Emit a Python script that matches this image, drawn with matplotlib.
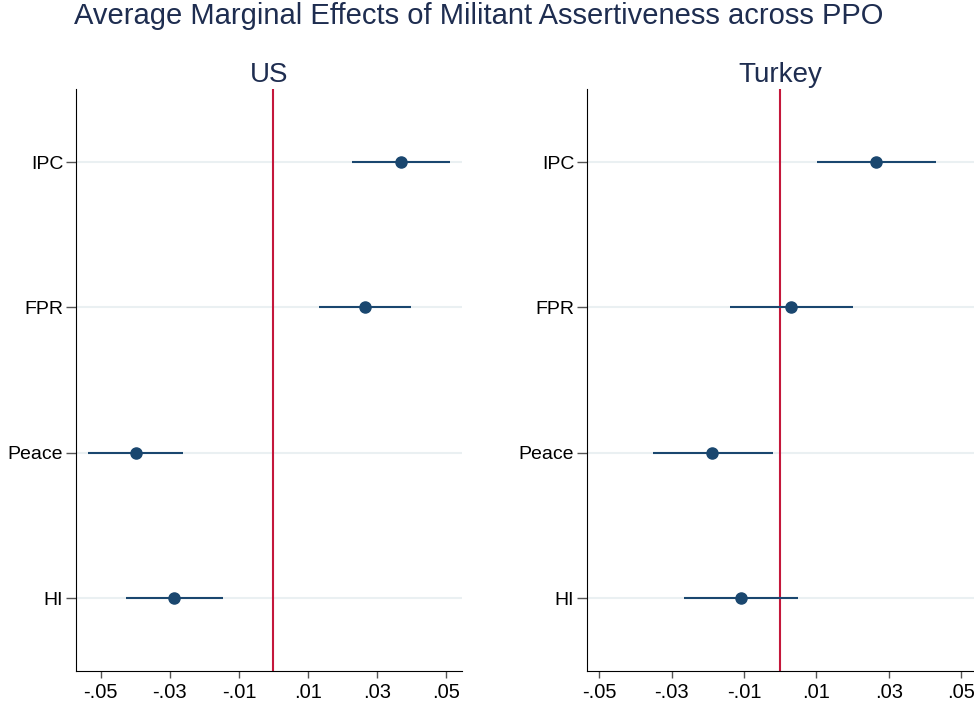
import matplotlib
matplotlib.use('Agg')
import matplotlib.pyplot as plt

plt.rcParams['font.family'] = ['Liberation Sans', 'DejaVu Sans']

categories = ['IPC', 'FPR', 'Peace', 'HI']
xtick_vals = [-0.05, -0.03, -0.01, 0.01, 0.03, 0.05]
xtick_labels = ['-.05', '-.03', '-.01', '.01', '.03', '.05']

# US panel
us_est = [0.0368, 0.0264, -0.0397, -0.0287]
us_lo = [0.0228, 0.0131, -0.0535, -0.0426]
us_hi = [0.0510, 0.0399, -0.0261, -0.0147]

# Turkey panel
tr_est = [0.0266, 0.0030, -0.0188, -0.0109]
tr_lo = [0.0101, -0.0138, -0.0353, -0.0265]
tr_hi = [0.0432, 0.0200, -0.0021, 0.0048]

navy = '#1a476f'
red = '#c4173b'
title_col = '#1e2d50'

fig = plt.figure(figsize=(9.74, 7.09), dpi=100)
ax1 = fig.add_axes([0.0777, 0.0536, 0.3966, 0.8204])
ax2 = fig.add_axes([0.6024, 0.0536, 0.3976, 0.8204])

panels = [
    (ax1, 'US', us_est, us_lo, us_hi, (-0.0572, 0.0545)),
    (ax2, 'Turkey', tr_est, tr_lo, tr_hi, (-0.0535, 0.0536)),
]

ypos = [4, 3, 2, 1]

for ax, name, est, lo, hi, xl in panels:
    for y in ypos:
        ax.axhline(y, color='#eaf0f2', lw=1.5, zorder=0)
    ax.hlines(ypos, lo, hi, color=navy, lw=1.5, zorder=2)
    ax.plot(est, ypos, 'o', color=navy, ms=8, zorder=3)
    ax.axvline(0, color=red, lw=1.5, zorder=1)
    ax.set_xlim(*xl)
    ax.set_ylim(0.5, 4.5)
    ax.set_yticks(ypos)
    ax.set_yticklabels(categories)
    ax.set_xticks(xtick_vals)
    ax.set_xticklabels(xtick_labels)
    ax.spines['top'].set_visible(False)
    ax.spines['right'].set_visible(False)
    ax.tick_params(axis='y', length=7, width=1, color='#555555', labelsize=14, pad=2)
    ax.tick_params(axis='x', length=5, width=1, color='#555555', labelsize=14.5, pad=4)
    ax.set_title(name, fontsize=20, color=title_col, pad=5)

fig.text(0.076, 0.978, 'Average Marginal Effects of Militant Assertiveness across PPO',
         fontsize=21, color=title_col, ha='left', va='center')

fig.savefig('out.png', dpi=100)
